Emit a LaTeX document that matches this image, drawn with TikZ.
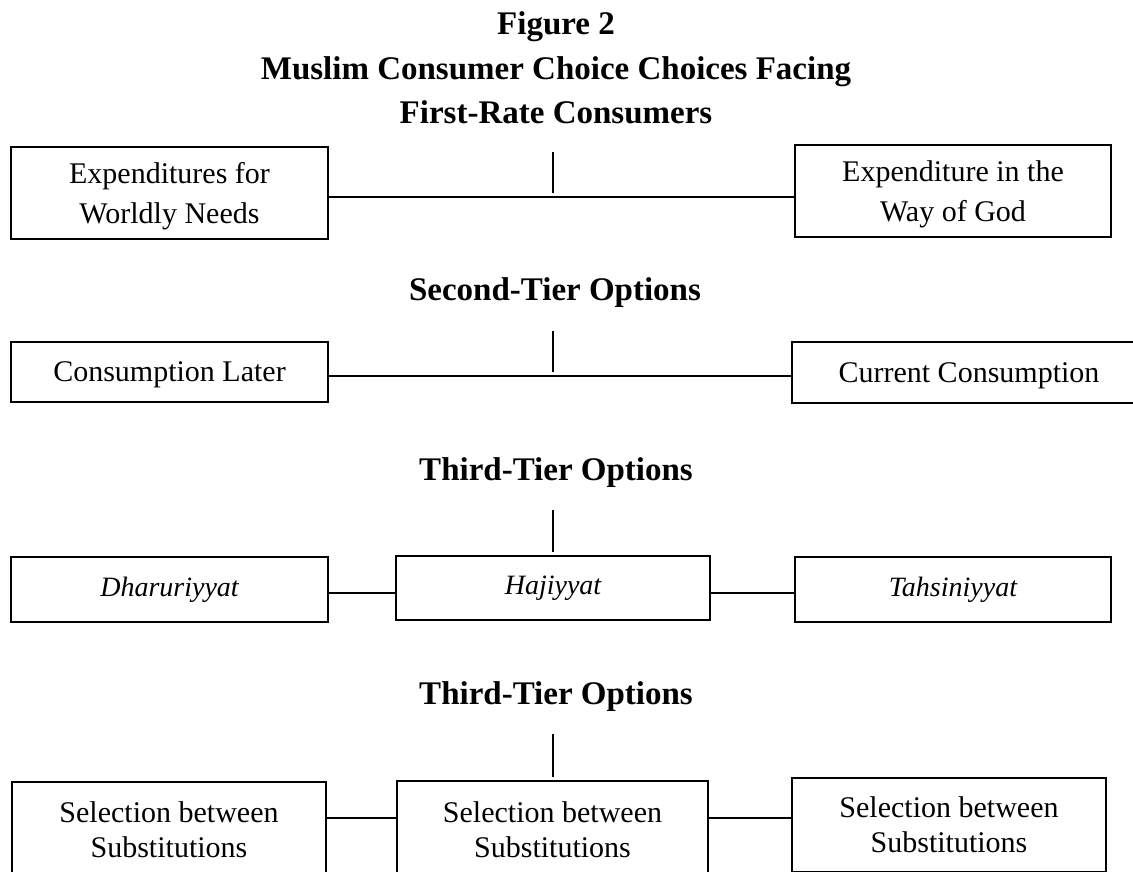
\documentclass[tikz,border=0pt]{standalone}
\usepackage{fontspec}
\setmainfont{Liberation Serif}
\begin{document}
\begin{tikzpicture}[x=1pt,y=-1pt,
  box/.style={draw, line width=1.4pt, inner sep=0pt, align=center, text depth=0pt, font=\fontsize{30}{40}\selectfont},
  ibox/.style={draw, line width=1.4pt, inner sep=0pt, align=center, font=\itshape\fontsize{28}{34}\selectfont},
  sbox/.style={box, font=\fontsize{30}{35}\selectfont},
  link/.style={line width=2.2pt},
  stem/.style={line width=1.5pt},
  ttl/.style={font=\bfseries\fontsize{33}{40}\selectfont, inner sep=0pt}]
\useasboundingbox (0,0) rectangle (1133,872);
\clip (0,0) rectangle (1133,872);
% titles
\node[ttl] (fig) at (556,27) {Figure 2};
\node[ttl] (t1) at (556,72) {Muslim Consumer Choice Choices Facing};
\node[ttl] (t2) at (556,112) {First-Rate Consumers};
% row 1
\node[box, minimum width=317, minimum height=92] (a) at (169.5,193) {Expenditures for\\Worldly Needs};
\node[box, minimum width=316, minimum height=92] (b) at (953,191) {Expenditure in the\\Way of God};
\coordinate (c1) at (553,197);
\coordinate (s1top) at (553,152);
\coordinate (s1bot) at (553,193);
\draw[link] (a.east |- c1) -- (b.west |- c1);
\draw[stem] (s1top) -- (s1bot);
% row 2
\node[ttl] (t3) at (555,293) {Second-Tier Options};
\node[box, minimum width=317, minimum height=60] (c) at (169.5,372) {Consumption Later};
\node[box, minimum width=354, minimum height=61] (d) at (969,372.5) {Current Consumption};
\coordinate (c2) at (553,376);
\coordinate (s2top) at (553,331);
\coordinate (s2bot) at (553,372);
\draw[link] (c.east |- c2) -- (d.west |- c2);
\draw[stem] (s2top) -- (s2bot);
% row 3
\node[ttl] (t4) at (556,473) {Third-Tier Options};
\node[ibox, minimum width=317, minimum height=65] (e) at (169.5,589.5) {Dharuriyyat};
\node[ibox, minimum width=314, minimum height=64] (f) at (553,588) {Hajiyyat};
\node[ibox, minimum width=316, minimum height=65] (g) at (953,589.5) {Tahsiniyyat};
\coordinate (c3) at (553,593);
\coordinate (s3top) at (553,510);
\coordinate (s3bot) at (553,552);
\draw[link] (e.east |- c3) -- (f.west |- c3);
\draw[link] (f.east |- c3) -- (g.west |- c3);
\draw[stem] (s3top) -- (s3bot);
% row 4
\node[ttl] (t5) at (556,697) {Third-Tier Options};
\node[sbox, minimum width=314, minimum height=96] (h) at (169,830) {Selection between\\Substitutions};
\node[sbox, minimum width=311, minimum height=98] (i) at (552.5,830) {Selection between\\Substitutions};
\node[sbox, minimum width=314, minimum height=94] (j) at (949,825) {Selection between\\Substitutions};
\coordinate (c4) at (553,818);
\coordinate (s4top) at (553,734);
\coordinate (s4bot) at (553,777);
\draw[link] (h.east |- c4) -- (i.west |- c4);
\draw[link] (i.east |- c4) -- (j.west |- c4);
\draw[stem] (s4top) -- (s4bot);
\end{tikzpicture}
\end{document}
